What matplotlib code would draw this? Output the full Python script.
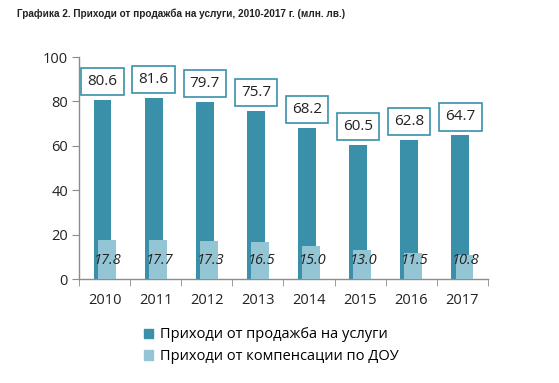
import matplotlib
matplotlib.use("Agg")
import matplotlib.pyplot as plt
from matplotlib.patches import Patch

years = ["2010", "2011", "2012", "2013", "2014", "2015", "2016", "2017"]
sales = [80.6, 81.6, 79.7, 75.7, 68.2, 60.5, 62.8, 64.7]
compensation = [17.8, 17.7, 17.3, 16.5, 15.0, 13.0, 11.5, 10.8]
sales_label = "Приходи от продажба на услуги"
comp_label = "Приходи от компенсации по ДОУ"
title = "Графика 2. Приходи от продажба на услуги, 2010-2017 г. (млн. лв.)"

dark = "#3a90a9"
light = "#94c5d5"
axis_col = "#8c8c8c"
font = "Open Sans"

fig = plt.figure(figsize=(5.59, 3.83), dpi=100)
fig.patch.set_facecolor("white")
ax = fig.add_axes([0.1413, 0.2715, 0.7317, 0.5795])

x = list(range(len(years)))
w = 0.35
ax.bar([i - 0.04 for i in x], sales, width=w, color=dark, zorder=2)
ax.bar([i + 0.04 for i in x], compensation, width=w, color=light, zorder=3)

for i, v in enumerate(sales):
    ax.text(i - 0.04, v + 8.3, f"{v:.1f}", ha="center", va="center", fontsize=11,
            family=font, color="#222222", zorder=5,
            bbox=dict(boxstyle="square,pad=0.4", fc="white", ec=dark, lw=1.2))
for i, v in enumerate(compensation):
    ax.text(i + 0.07, 8.3, f"{v:.1f}", ha="center", va="center", fontsize=10.5,
            family=font, style="italic", color="#222222", zorder=5)

ax.set_xlim(-0.5, len(years) - 0.5)
ax.set_ylim(0, 100)
ax.set_yticks([0, 20, 40, 60, 80, 100])
ax.set_xticks(x)
ax.set_xticklabels(years)
ax.set_xticks([i - 0.5 for i in range(len(years) + 1)], minor=True)
ax.tick_params(axis="x", which="major", length=0, pad=10, labelsize=10.5)
ax.tick_params(axis="x", which="minor", length=5, color=axis_col, direction="out")
ax.tick_params(axis="y", length=5, color=axis_col, labelsize=10.5, pad=3)
for lab in ax.get_xticklabels() + ax.get_yticklabels():
    lab.set_family(font)
    lab.set_color("#222222")
for s in ["top", "right"]:
    ax.spines[s].set_visible(False)
for s in ["left", "bottom"]:
    ax.spines[s].set_color(axis_col)
    ax.spines[s].set_linewidth(1.0)

handles = [Patch(color=dark, label=sales_label), Patch(color=light, label=comp_label)]
fig.legend(handles=handles, loc="upper left", bbox_to_anchor=(0.258, 0.145),
           frameon=False, prop=dict(family=font, size=10.5), handlelength=0.6,
           handleheight=0.6, handletextpad=0.5, labelspacing=0.45,
           borderaxespad=0, borderpad=0)

fig.text(0.03, 0.963, title, ha="left", va="center", fontsize=7.2,
         family="Liberation Sans", weight="bold", color="#222222")

fig.savefig("out.png", dpi=100, facecolor="white")
